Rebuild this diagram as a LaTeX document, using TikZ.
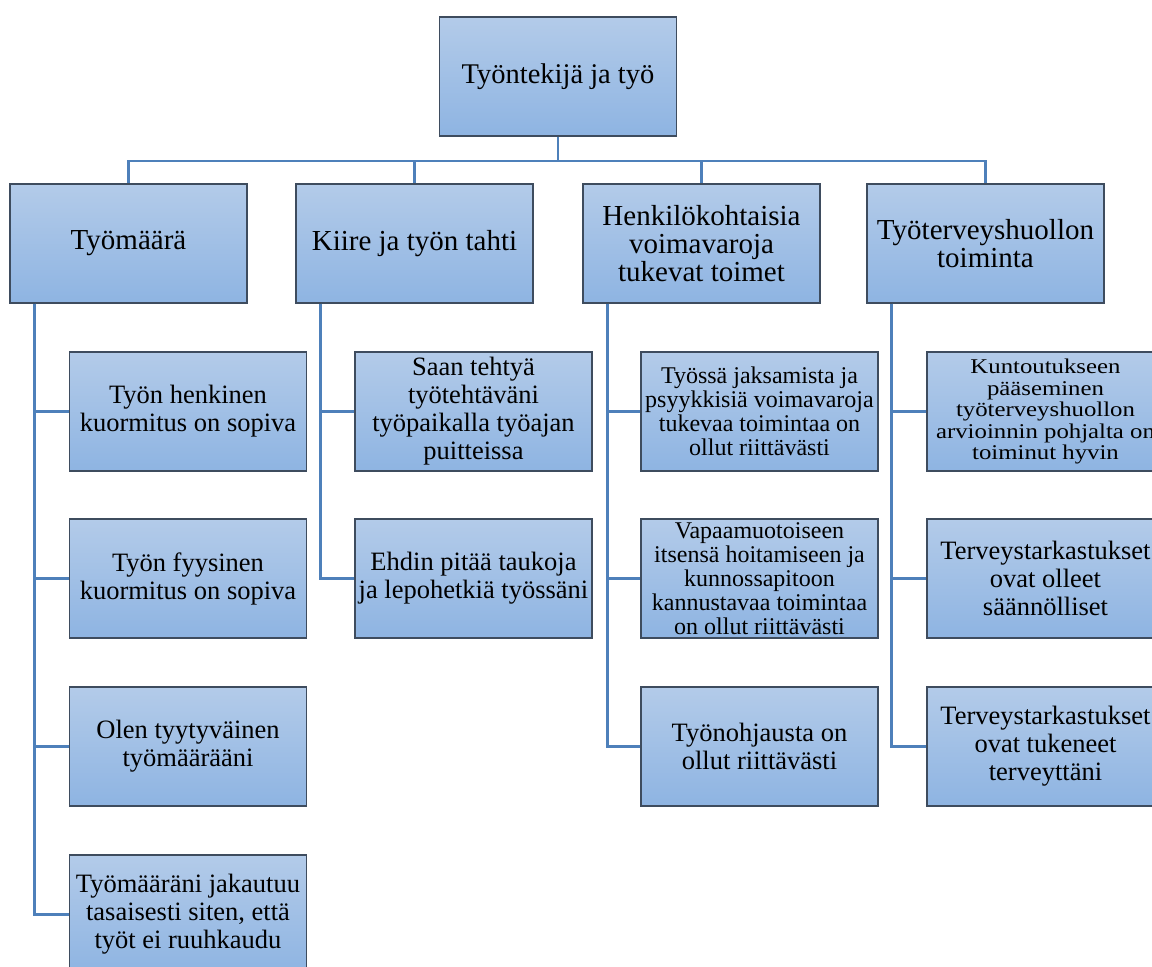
\documentclass[tikz,border=0pt]{standalone}
\usepackage{fontspec}
\setmainfont{Liberation Serif}
\newfontfamily\widefont[FakeStretch=1.18]{Liberation Serif}
\definecolor{boxtop}{RGB}{179,203,233}
\definecolor{boxbot}{RGB}{142,180,226}
\definecolor{boxline}{RGB}{62,76,94}
\definecolor{conn}{RGB}{78,128,186}
\begin{document}
\begin{tikzpicture}[x=1pt,y=-1pt,
  box/.style={draw=boxline, line width=1.1pt, top color=boxtop, bottom color=boxbot,
    minimum width=237pt, minimum height=119pt, inner sep=0pt, align=center, text=black},
  fA/.style={font=\fontsize{28.5}{29}\selectfont},
  fB/.style={font=\fontsize{29}{28}\selectfont},
  fC/.style={font=\fontsize{26.5}{28}\selectfont},
  fD/.style={font=\fontsize{24}{24}\selectfont},
  fE/.style={font=\widefont\fontsize{21}{21.5}\selectfont},
  link/.style={draw=conn, line width=2.8pt}]
\useasboundingbox (0,0) rectangle (1152,967);
\clip (0,0) rectangle (1152,967);
% top
\node[box,fA] (top) at (558,76.5) {Työntekijä ja työ};
% level 1
\node[box,fB] (la) at (128.5,243.5) {Työmäärä};
\node[box,fB] (lb) at (414.5,243.5) {Kiire ja työn tahti};
\node[box,fB] (lc) at (701.5,243.5) {Henkilökohtaisia\\voimavaroja\\tukevat toimet};
\node[box,fB] (ld) at (985.5,243.5) {Työterveyshuollon\\toiminta};
% column 1
\node[box,fC] (a1) at (188,411.5) {Työn henkinen\\kuormitus on sopiva};
\node[box,fC] (a2) at (188,578.5) {Työn fyysinen\\kuormitus on sopiva};
\node[box,fC] (a3) at (188,746.5) {Olen tyytyväinen\\työmäärääni};
\node[box,fC] (a4) at (188,914.5) {Työmääräni jakautuu\\tasaisesti siten, että\\työt ei ruuhkaudu};
% column 2
\node[box,fC] (b1) at (473.5,411.5) {Saan tehtyä\\työtehtäväni\\työpaikalla työajan\\puitteissa};
\node[box,fC] (b2) at (473.5,578.5) {Ehdin pitää taukoja\\ja lepohetkiä työssäni};
% column 3
\node[box,fD] (c1) at (759.5,411.5) {Työssä jaksamista ja\\psyykkisiä voimavaroja\\tukevaa toimintaa on\\ollut riittävästi};
\node[box,fD] (c2) at (759.5,578.5) {Vapaamuotoiseen\\itsensä hoitamiseen ja\\kunnossapitoon\\kannustavaa toimintaa\\on ollut riittävästi};
\node[box,fC] (c3) at (759.5,746.5) {Työnohjausta on\\ollut riittävästi};
% column 4
\node[box,fE] (d1) at (1045.5,411.5) {Kuntoutukseen\\pääseminen\\työterveyshuollon\\arvioinnin pohjalta on\\toiminut hyvin};
\node[box,fC] (d2) at (1045.5,578.5) {Terveystarkastukset\\ovat olleet\\säännölliset};
\node[box,fC] (d3) at (1045.5,746.5) {Terveystarkastukset\\ovat tukeneet\\terveyttäni};
% connectors top -> level 1
\coordinate (bus) at (558,161);
\draw[link] (top.south) -- (bus);
\foreach \n in {la,lb,lc,ld} {\draw[link] (bus) -| (\n.north);}
% connectors level 1 -> children
\draw[link] ([xshift=25pt]la.south west) |- (a1.west);
\draw[link] ([xshift=25pt]la.south west) |- (a2.west);
\draw[link] ([xshift=25pt]la.south west) |- (a3.west);
\draw[link] ([xshift=25pt]la.south west) |- (a4.west);
\draw[link] ([xshift=25pt]lb.south west) |- (b1.west);
\draw[link] ([xshift=25pt]lb.south west) |- (b2.west);
\draw[link] ([xshift=25pt]lc.south west) |- (c1.west);
\draw[link] ([xshift=25pt]lc.south west) |- (c2.west);
\draw[link] ([xshift=25pt]lc.south west) |- (c3.west);
\draw[link] ([xshift=25pt]ld.south west) |- (d1.west);
\draw[link] ([xshift=25pt]ld.south west) |- (d2.west);
\draw[link] ([xshift=25pt]ld.south west) |- (d3.west);
\end{tikzpicture}
\end{document}
